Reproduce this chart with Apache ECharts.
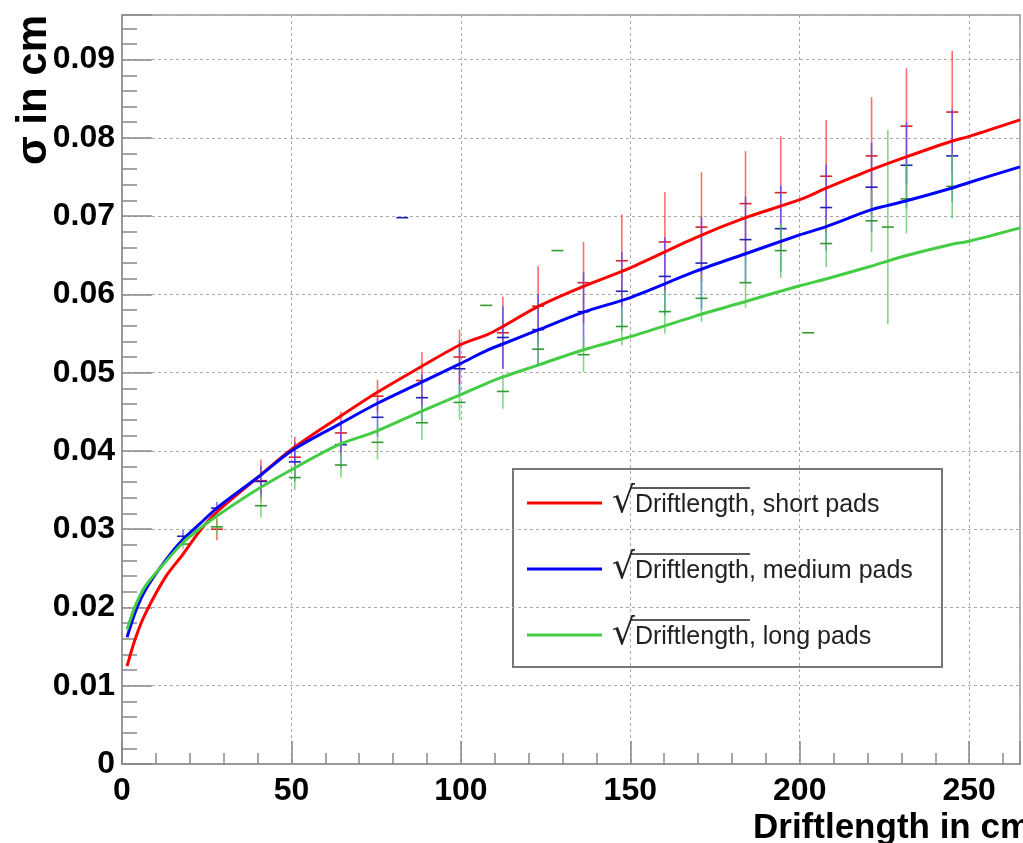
<!DOCTYPE html>
<html><head><meta charset="utf-8">
<script src="https://cdn.jsdelivr.net/npm/echarts@6/dist/echarts.min.js"></script>
<style>html,body{margin:0;padding:0;background:#fff}#c{width:1023px;height:843px}</style>
</head><body><div id="c"></div>
<script>
// ---- data ----
const seriesNames = ['√Driftlength, short pads', '√Driftlength, medium pads', '√Driftlength, long pads'];
const xTicks = [0, 50, 100, 150, 200, 250];
const yTicks = [0, 0.01, 0.02, 0.03, 0.04, 0.05, 0.06, 0.07, 0.08, 0.09];

const fitX     = [1.5, 4, 7, 13, 18, 23, 28, 40, 50, 64, 75, 88, 100, 108, 112, 123, 136, 150, 169, 184, 200, 208, 221, 231, 245, 250, 265];
const redFit   = [0.0125, 0.0161, 0.0193, 0.0240, 0.0268, 0.0298, 0.0322, 0.0366, 0.0402, 0.0443, 0.0474, 0.0507, 0.0536, 0.0549, 0.0558, 0.0585, 0.0610, 0.0634, 0.0672, 0.0698, 0.0721, 0.0736, 0.0759, 0.0775, 0.0796, 0.0802, 0.0823];
const blueFit  = [0.0162, 0.0195, 0.0223, 0.0261, 0.0287, 0.0307, 0.0327, 0.0366, 0.0400, 0.0434, 0.0460, 0.0487, 0.0512, 0.0529, 0.0536, 0.0555, 0.0577, 0.0596, 0.0629, 0.0652, 0.0676, 0.0687, 0.0708, 0.0719, 0.0736, 0.0743, 0.0763];
const greenFit = [0.0172, 0.0203, 0.0228, 0.0259, 0.0283, 0.0301, 0.0317, 0.0351, 0.0376, 0.0408, 0.0425, 0.0450, 0.0472, 0.0487, 0.0494, 0.0510, 0.0529, 0.0546, 0.0572, 0.0591, 0.0611, 0.0620, 0.0636, 0.0649, 0.0664, 0.0668, 0.0685];

const redX   = [28, 41, 51, 64.6, 75.4, 88.5, 99.6, 112.4, 122.8, 136.2, 147.5, 160.2, 171, 184, 194.4, 207.8, 221.2, 231.5, 245];
const redVal = [0.0300, 0.0362, 0.0392, 0.0423, 0.0470, 0.0490, 0.0520, 0.0551, 0.0585, 0.0615, 0.0643, 0.0667, 0.0686, 0.0716, 0.0730, 0.0751, 0.0777, 0.0815, 0.0833];
const redErr = [0.0014, 0.0027, 0.0026, 0.0027, 0.0021, 0.0036, 0.0035, 0.0046, 0.0051, 0.0052, 0.0059, 0.0064, 0.0070, 0.0067, 0.0072, 0.0072, 0.0075, 0.0074, 0.0078];

const blueX   = [18, 28, 41, 51, 64.6, 75.4, 82.7, 88.5, 99.6, 112.4, 122.8, 136.2, 147.5, 160.2, 171, 184, 194.4, 207.8, 221.2, 231.5, 245];
const blueVal = [0.0291, 0.0327, 0.0361, 0.0386, 0.0408, 0.0443, 0.0698, 0.0468, 0.0505, 0.0545, 0.0555, 0.0578, 0.0604, 0.0623, 0.0640, 0.0670, 0.0684, 0.0711, 0.0737, 0.0765, 0.0777];
const blueErr = [0.0008, 0.0008, 0.0020, 0.0025, 0.0030, 0.0025, 0.0000, 0.0030, 0.0035, 0.0040, 0.0045, 0.0050, 0.0050, 0.0050, 0.0059, 0.0055, 0.0055, 0.0055, 0.0057, 0.0055, 0.0059];

const greenX   = [18, 28, 41, 51, 64.6, 75.4, 88.5, 99.6, 107.5, 112.4, 122.8, 128.5, 136.2, 147.5, 160.2, 171, 184, 194.4, 202.5, 207.8, 221.2, 226, 231.5, 245];
const greenVal = [0.0281, 0.0303, 0.0330, 0.0366, 0.0382, 0.0411, 0.0436, 0.0462, 0.0586, 0.0476, 0.0530, 0.0656, 0.0523, 0.0559, 0.0578, 0.0595, 0.0615, 0.0656, 0.0551, 0.0665, 0.0694, 0.0686, 0.0722, 0.0738];
const greenErr = [0.0006, 0.0010, 0.0015, 0.0016, 0.0016, 0.0022, 0.0022, 0.0022, 0.0000, 0.0022, 0.0020, 0.0000, 0.0022, 0.0024, 0.0028, 0.0030, 0.0032, 0.0035, 0.0000, 0.0030, 0.0040, 0.0124, 0.0044, 0.0041];

// ---- build ----
const zip2 = (xs, ys) => xs.map((x, i) => [x, ys[i]]);
const zip3 = (xs, ys, es) => xs.map((x, i) => [x, ys[i], es[i]]);
const FONT = '"Liberation Sans", Arial, sans-serif';

function errSeries(name, data, barColor, markColor) {
  return {
    type: 'custom', name: name + ' data', data: data, z: 2, clip: true, silent: true,
    renderItem: function (params, api) {
      const x = api.value(0), v = api.value(1), e = api.value(2);
      const mid = api.coord([x, v]);
      const children = [];
      if (e > 0) {
        const top = api.coord([x, v + e]), bot = api.coord([x, v - e]);
        children.push({ type: 'line', shape: { x1: top[0], y1: top[1], x2: bot[0], y2: bot[1] },
          style: { stroke: barColor, lineWidth: 1.6 } });
      }
      children.push({ type: 'line', shape: { x1: mid[0] - 6, y1: mid[1], x2: mid[0] + 6, y2: mid[1] },
        style: { stroke: markColor, lineWidth: 1.6 } });
      return { type: 'group', children: children };
    }
  };
}
function fitSeries(name, ys, color) {
  return { type: 'line', name: name, data: zip2(fitX, ys), showSymbol: false, symbol: 'none',
    smooth: 0.3, z: 5, lineStyle: { color: color, width: 3 }, itemStyle: { color: color } };
}
const near = (v, arr, tol) => arr.some(t => Math.abs(t - v) < tol);

const chart = echarts.init(document.getElementById('c'));
chart.setOption({
  animation: false,
  backgroundColor: '#fff',
  grid: { left: 122, top: 15, right: -6, bottom: 79, show: true, borderColor: '#999', borderWidth: 1.5, backgroundColor: 'transparent' },
  xAxis: {
    type: 'value', min: 0, max: 265, interval: 50,
    axisLine: { show: true, onZero: false, lineStyle: { color: '#999', width: 2 } },
    axisTick: { show: true, inside: true, length: 23, lineStyle: { color: '#888', width: 1.5 } },
    minorTick: { show: true, splitNumber: 5, length: 11, lineStyle: { color: '#888', width: 1.5 } },
    splitLine: { show: true, lineStyle: { color: '#aaa', type: [3, 3], width: 1 } },
    axisLabel: { fontSize: 32, fontWeight: 'bold', fontFamily: FONT, color: '#000', margin: 11,
      formatter: v => near(v, xTicks, 1e-6) ? String(v) : '' }
  },
  yAxis: {
    type: 'value', min: 0, max: 0.0957, interval: 0.01,
    axisLine: { show: true, lineStyle: { color: '#999', width: 2 } },
    axisTick: { show: true, inside: true, length: 30, lineStyle: { color: '#888', width: 1.5 } },
    minorTick: { show: true, splitNumber: 5, length: 15, lineStyle: { color: '#888', width: 1.5 } },
    splitLine: { show: true, lineStyle: { color: '#aaa', type: [3, 3], width: 1 } },
    axisLabel: { fontSize: 32, fontWeight: 'bold', fontFamily: FONT, color: '#000', margin: 7,
      formatter: v => near(v, yTicks, 1e-7) ? (v === 0 ? '0' : v.toFixed(2)) : '' }
  },
  legend: {
    data: seriesNames, orient: 'vertical', left: 527, top: 485, padding: 0,
    itemWidth: 75, itemHeight: 3, itemGap: 30, icon: 'rect', selectedMode: false,
    formatter: function (name) {
      const i = name.indexOf(',');
      return '{r|√}{t|' + name.slice(1, i) + name.slice(i) + '}';
    },
    textStyle: {
      lineHeight: 36, color: '#222',
      rich: {
        r: { fontSize: 36, fontFamily: '"DejaVu Sans"', color: '#222', padding: [0, 0, 0, 5], lineHeight: 36 },
        t: { fontSize: 25, fontFamily: FONT, color: '#222', lineHeight: 36, padding: [4, 0, 0, 0] }
      }
    }
  },
  graphic: [
    { type: 'rect', z: -1, shape: { x: 513, y: 469, width: 429, height: 198 },
      style: { fill: '#fff', stroke: '#777', lineWidth: 2 } },
    { type: 'line', z: 100, shape: { x1: 630, y1: 488, x2: 750, y2: 488 }, style: { stroke: '#222', lineWidth: 1.3 } },
    { type: 'line', z: 100, shape: { x1: 630, y1: 554, x2: 750, y2: 554 }, style: { stroke: '#222', lineWidth: 1.3 } },
    { type: 'line', z: 100, shape: { x1: 630, y1: 620, x2: 750, y2: 620 }, style: { stroke: '#222', lineWidth: 1.3 } },
    { type: 'text', z: 100, x: 34, y: 15, rotation: Math.PI / 2,
      style: { text: 'σ in cm', fontSize: 42, fontWeight: 'bold', fontFamily: FONT, fill: '#000', align: 'right', verticalAlign: 'middle' } },
    { type: 'text', z: 100, x: 753, y: 828,
      style: { text: 'Driftlength in cm', fontSize: 35, fontWeight: 'bold', fontFamily: FONT, fill: '#000', align: 'left', verticalAlign: 'middle' } }
  ],
  series: [
    errSeries(seriesNames[0], zip3(redX, redVal, redErr), 'rgba(255,60,60,0.75)', '#d22'),
    errSeries(seriesNames[1], zip3(blueX, blueVal, blueErr), 'rgba(70,70,255,0.75)', '#22b'),
    errSeries(seriesNames[2], zip3(greenX, greenVal, greenErr), 'rgba(90,200,90,0.75)', '#393'),
    fitSeries(seriesNames[0], redFit, '#ff0000'),
    fitSeries(seriesNames[1], blueFit, '#0000ff'),
    fitSeries(seriesNames[2], greenFit, '#44cc44')
  ]
});
</script></body></html>
